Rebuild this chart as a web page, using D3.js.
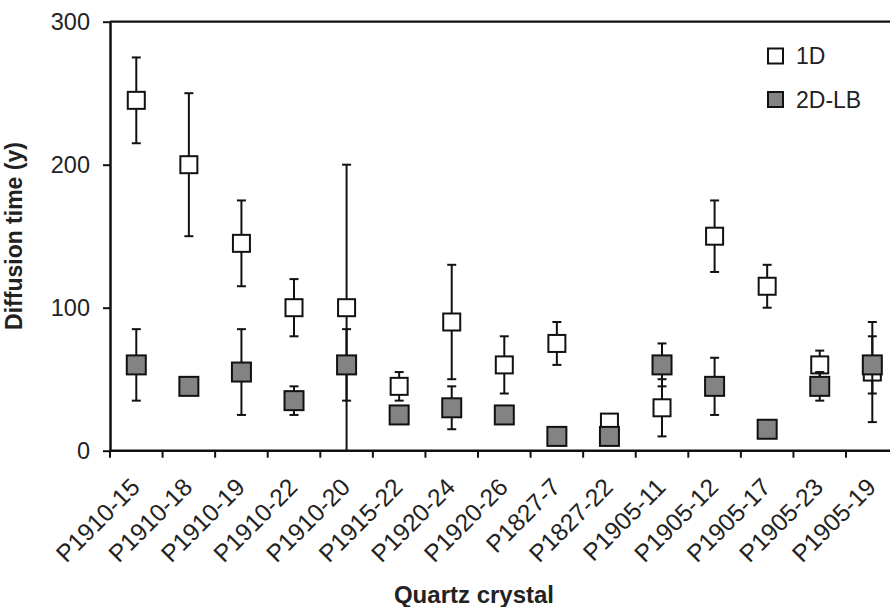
<!DOCTYPE html>
<html>
<head>
<meta charset="utf-8">
<script src="https://cdn.jsdelivr.net/npm/d3@7/dist/d3.min.js"></script>
<style>
  html, body { margin: 0; padding: 0; background: #fff; }
  svg { display: block; font-family: "Liberation Sans", Arial, sans-serif; }
</style>
</head>
<body>
<svg id="chart" width="890" height="607"></svg>
<script>
// Quartz crystals (x categories)
const crystals = ["P1910-15", "P1910-18", "P1910-19", "P1910-22", "P1910-20",
  "P1915-22", "P1920-24", "P1920-26", "P1827-7", "P1827-22",
  "P1905-11", "P1905-12", "P1905-17", "P1905-23", "P1905-19"];

// 1D model: diffusion time (years) and error half-width (null = no bar)
const time1D = [245, 200, 145, 100, 100, 45, 90, 60, 75, 20, 30, 150, 115, 60, 55];
const err1D  = [30, 50, 30, 20, 100, 10, 40, 20, 15, null, 20, 25, 15, 10, 35];

// 2D-LB model: diffusion time (years) and error half-width
const time2D = [60, 45, 55, 35, 60, 25, 30, 25, 10, 10, 60, 45, 15, 45, 60];
const err2D  = [25, null, 30, 10, 25, null, 15, null, null, null, 15, 20, null, 10, 20];

const yTicks = [0, 100, 200, 300];
const seriesNames = ["1D", "2D-LB"];

const svg = d3.select("#chart");
const plotLeft = 110, plotTop = 21.7, plotBottom = 450.7, plotRight = 898.6;

const x = d3.scaleBand().domain(crystals).range([plotLeft, plotRight]).padding(0);
const y = d3.scaleLinear().domain([0, 300]).range([plotBottom, plotTop]);

// frame: top rule
svg.append("line")
  .attr("x1", plotLeft).attr("x2", plotRight)
  .attr("y1", plotTop).attr("y2", plotTop)
  .attr("stroke", "#111").attr("stroke-width", 2.2);

// y axis
const yAxis = svg.append("g")
  .attr("transform", `translate(${plotLeft},0)`)
  .call(d3.axisLeft(y).tickValues(yTicks).tickSize(7).tickPadding(13).tickSizeOuter(0));
yAxis.select(".domain").attr("stroke", "#111").attr("stroke-width", 2.5);
yAxis.selectAll(".tick line").attr("stroke", "#111").attr("stroke-width", 2);
yAxis.selectAll(".tick text")
  .attr("font-size", 23.5).attr("fill", "#222")
  .attr("font-family", "Liberation Sans, Arial, sans-serif");

// x axis: ticks sit on category boundaries
const boundaries = crystals.map(c => x(c));
const xAxisG = svg.append("g");
xAxisG.append("line")
  .attr("x1", plotLeft).attr("x2", plotRight)
  .attr("y1", plotBottom).attr("y2", plotBottom)
  .attr("stroke", "#111").attr("stroke-width", 2.5);
xAxisG.selectAll("line.tk").data(boundaries.concat([plotRight])).join("line")
  .attr("class", "tk")
  .attr("x1", d => d).attr("x2", d => d)
  .attr("y1", plotBottom).attr("y2", plotBottom + 7)
  .attr("stroke", "#111").attr("stroke-width", 2);

xAxisG.selectAll("text.cat").data(crystals).join("text")
  .attr("class", "cat")
  .attr("transform", d => `translate(${x(d) + x.bandwidth() / 2 + 5},${plotBottom + 38}) rotate(-45)`)
  .attr("text-anchor", "end")
  .attr("font-size", 24.5)
  .attr("fill", "#222")
  .text(d => d);

// axis titles
svg.append("text")
  .attr("transform", `translate(22,236) rotate(-90)`)
  .attr("text-anchor", "middle")
  .attr("font-size", 23)
  .attr("font-weight", "bold")
  .attr("fill", "#222")
  .text("Diffusion time (y)");

svg.append("text")
  .attr("x", 474).attr("y", 603)
  .attr("text-anchor", "middle")
  .attr("font-size", 24)
  .attr("font-weight", "bold")
  .attr("fill", "#222")
  .text("Quartz crystal");

// draws error bars + square markers for one series
function drawSeries(values, errs, fill, size) {
  const g = svg.append("g");
  const cx = c => x(c) + x.bandwidth() / 2;
  const rows = crystals.map((c, i) => ({ c, v: values[i], e: errs[i] }));
  const withErr = rows.filter(r => r.e !== null);
  g.selectAll("line.bar").data(withErr).join("line")
    .attr("class", "bar")
    .attr("x1", r => cx(r.c)).attr("x2", r => cx(r.c))
    .attr("y1", r => y(Math.max(0, r.v - r.e))).attr("y2", r => y(r.v + r.e))
    .attr("stroke", "#111").attr("stroke-width", 2);
  const caps = [];
  withErr.forEach(r => {
    caps.push({ c: r.c, val: r.v + r.e });
    if (r.v - r.e > 0) caps.push({ c: r.c, val: r.v - r.e });
  });
  g.selectAll("line.cap").data(caps).join("line")
    .attr("class", "cap")
    .attr("x1", d => cx(d.c) - 4.5).attr("x2", d => cx(d.c) + 4.5)
    .attr("y1", d => y(d.val)).attr("y2", d => y(d.val))
    .attr("stroke", "#111").attr("stroke-width", 2);
  g.selectAll("rect").data(rows).join("rect")
    .attr("x", r => cx(r.c) - size / 2)
    .attr("y", r => y(r.v) - size / 2)
    .attr("width", size).attr("height", size)
    .attr("fill", fill).attr("stroke", "#111").attr("stroke-width", 2);
}

drawSeries(time1D, err1D, "#ffffff", 17);
drawSeries(time2D, err2D, "#838383", 19);

// legend
const legendFill = ["#ffffff", "#838383"];
const legend = svg.append("g");
seriesNames.forEach((name, i) => {
  const yy = 56 + i * 43.5;
  legend.append("rect")
    .attr("x", 768).attr("y", yy - 7.5)
    .attr("width", 15).attr("height", 15)
    .attr("fill", legendFill[i]).attr("stroke", "#111").attr("stroke-width", 2);
  legend.append("text")
    .attr("x", 796).attr("y", yy + 8)
    .attr("font-size", 23).attr("fill", "#222")
    .text(name);
});
</script>
</body>
</html>
